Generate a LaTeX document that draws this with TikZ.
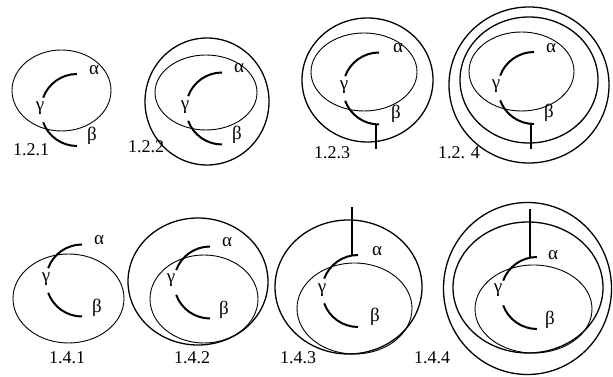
\documentclass[tikz,border=0pt]{standalone}
\usepackage{fontspec}
\setmainfont{Liberation Serif}
\usepackage{tikz}
\usetikzlibrary{calc}
\usetikzlibrary{positioning}

\begin{document}
\begin{tikzpicture}[
        x=1pt, y=1pt,
        ring/.style={draw=black, line width=0.9pt},
        hull/.style={draw=black, line width=1.3pt},
        strand/.style={draw=black, line width=2pt},
        stem/.style={draw=black, line width=2.5pt},
        lbl/.style={font=\fontsize{19}{21}\selectfont, inner sep=0pt},
        tag/.style={font=\fontsize{18}{20}\selectfont, inner sep=0pt}
    ]

    \useasboundingbox (0,0) rectangle (613,377);

    % 1.2.1
    \coordinate (c121) at (77,267);
    \draw[ring] (61.5,286.5) ellipse [x radius=49.5pt, y radius=40.5pt];
    \draw[strand] (c121) ++(90:36pt) arc[start angle=90, end angle=160, radius=36pt];
    \draw[strand] (c121) ++(200:36pt) arc[start angle=200, end angle=270, radius=36pt];
    \node[lbl] (a121) at ($(c121)+(17,40)$) {α};
    \node[lbl] (b121) at ($(c121)+(15,-26)$) {β};
    \node[lbl] (g121) at ($(c121)+(-37,1.5)$) {γ};
    \node[tag] (t121) at (31,227) {1.2.1};

    % 1.2.2
    \coordinate (c122) at (222,268.5);
    \draw[ring] (206,284.5) ellipse [x radius=51pt, y radius=37.5pt];
    \draw[hull] (207,275.5) ellipse [x radius=62pt, y radius=63.5pt];
    \draw[strand] (c122) ++(90:36pt) arc[start angle=90, end angle=160, radius=36pt];
    \draw[strand] (c122) ++(200:36pt) arc[start angle=200, end angle=270, radius=36pt];
    \node[lbl] (a122) at ($(c122)+(17,40)$) {α};
    \node[lbl] (b122) at ($(c122)+(15,-26)$) {β};
    \node[lbl] (g122) at ($(c122)+(-37,1.5)$) {γ};
    \node[tag] (t122) at (146,230) {1.2.2};

    % 1.2.3
    \coordinate (c123) at (379,288.5);
    \draw[ring] (364,305) ellipse [x radius=53pt, y radius=39pt];
    \draw[hull] (367.5,297) ellipse [x radius=65.5pt, y radius=62pt];
    \draw[strand] (c123) ++(90:36pt) arc[start angle=90, end angle=160, radius=36pt];
    \draw[strand] (c123) ++(200:36pt) arc[start angle=200, end angle=270, radius=36pt];
    \coordinate (s123a) at ($(c123)+(-3,-36)$);
    \coordinate (s123b) at ($(c123)+(-3,-61)$);
    \draw[stem] (s123a) -- (s123b);
    \node[lbl] (a123) at ($(c123)+(19,40)$) {α};
    \node[lbl] (b123) at ($(c123)+(17,-25)$) {β};
    \node[lbl] (g123) at ($(c123)+(-35,1)$) {γ};
    \node[tag] (t123) at (332,224) {1.2.3};

    % 1.2.4
    \coordinate (c124) at (534,289);
    \draw[ring] (521.5,305.5) ellipse [x radius=52.5pt, y radius=39.5pt];
    \draw[hull] (529,297) ellipse [x radius=69pt, y radius=63pt];
    \draw[hull] (529,292) ellipse [x radius=80pt, y radius=78pt];
    \draw[strand] (c124) ++(90:36pt) arc[start angle=90, end angle=160, radius=36pt];
    \draw[strand] (c124) ++(200:36pt) arc[start angle=200, end angle=270, radius=36pt];
    \coordinate (s124a) at ($(c124)+(-3,-36)$);
    \coordinate (s124b) at ($(c124)+(-3,-61)$);
    \draw[stem] (s124a) -- (s124b);
    \node[lbl] (a124) at ($(c124)+(17,40)$) {α};
    \node[lbl] (b124) at ($(c124)+(15,-25)$) {β};
    \node[lbl] (g124) at ($(c124)+(-38,2)$) {γ};
    \node[tag] (t124) at (459,224) {1.2. 4};

    % 1.4.1
    \coordinate (c141) at (82,96.5);
    \draw[ring] (68.5,78.5) ellipse [x radius=55.5pt, y radius=44.5pt];
    \draw[strand] (c141) ++(90:36pt) arc[start angle=90, end angle=160, radius=36pt];
    \draw[strand] (c141) ++(200:36pt) arc[start angle=200, end angle=270, radius=36pt];
    \node[lbl] (a141) at ($(c141)+(17,40)$) {α};
    \node[lbl] (b141) at ($(c141)+(15,-27)$) {β};
    \node[lbl] (g141) at ($(c141)+(-36,1.5)$) {γ};
    \node[tag] (t141) at (67,19) {1.4.1};

    % 1.4.2
    \coordinate (c142) at (210,94.5);
    \draw[ring] (204,78) ellipse [x radius=54pt, y radius=44pt];
    \draw[hull] (198,95.5) ellipse [x radius=70pt, y radius=63.5pt];
    \draw[strand] (c142) ++(90:36pt) arc[start angle=90, end angle=160, radius=36pt];
    \draw[strand] (c142) ++(200:36pt) arc[start angle=200, end angle=270, radius=36pt];
    \node[lbl] (a142) at ($(c142)+(17,40)$) {α};
    \node[lbl] (b142) at ($(c142)+(14,-27)$) {β};
    \node[lbl] (g142) at ($(c142)+(-39,2)$) {γ};
    \node[tag] (t142) at (192,19) {1.4.2};

    % 1.4.3
    \coordinate (c143) at (358,86);
    \draw[ring] (354.5,68.5) ellipse [x radius=57.5pt, y radius=45.5pt];
    \draw[hull] (348.5,90) ellipse [x radius=73.5pt, y radius=67pt];
    \draw[strand] (c143) ++(90:36pt) arc[start angle=90, end angle=160, radius=36pt];
    \draw[strand] (c143) ++(200:36pt) arc[start angle=200, end angle=270, radius=36pt];
    \coordinate (s143a) at ($(c143)+(-6,35)$);
    \coordinate (s143b) at ($(c143)+(-6,84)$);
    \draw[stem] (s143a) -- (s143b);
    \node[lbl] (a143) at ($(c143)+(19,40)$) {α};
    \node[lbl] (b143) at ($(c143)+(17,-26)$) {β};
    \node[lbl] (g143) at ($(c143)+(-36,1)$) {γ};
    \node[tag] (t143) at (298,19) {1.4.3};

    % 1.4.4
    \coordinate (c144) at (537,84);
    \draw[ring] (533.5,68) ellipse [x radius=58.5pt, y radius=44pt];
    \draw[hull] (528,89.5) ellipse [x radius=75pt, y radius=65.5pt];
    \draw[hull] (527.5,88.5) ellipse [x radius=84pt, y radius=86pt];
    \draw[strand] (c144) ++(90:36pt) arc[start angle=90, end angle=160, radius=36pt];
    \draw[strand] (c144) ++(200:36pt) arc[start angle=200, end angle=270, radius=36pt];
    \coordinate (s144a) at ($(c144)+(-7,35)$);
    \coordinate (s144b) at ($(c144)+(-7,84)$);
    \draw[stem] (s144a) -- (s144b);
    \node[lbl] (a144) at ($(c144)+(16,38)$) {α};
    \node[lbl] (b144) at ($(c144)+(13,-27)$) {β};
    \node[lbl] (g144) at ($(c144)+(-39,3)$) {γ};
    \node[tag] (t144) at (432,19) {1.4.4};

\end{tikzpicture}
\end{document}
